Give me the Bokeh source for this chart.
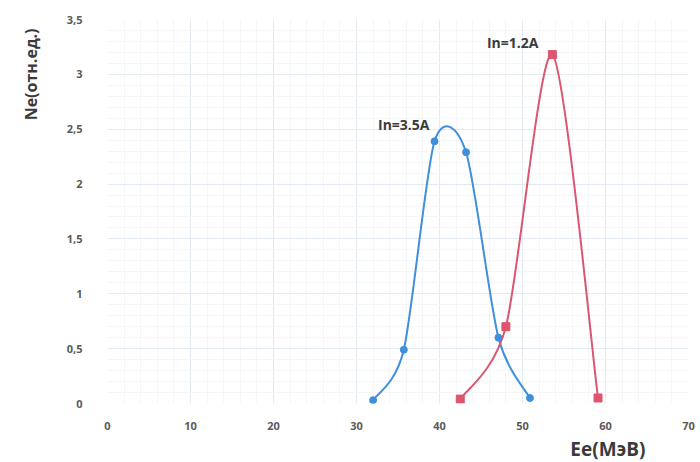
from bokeh.plotting import figure
from bokeh.models import Label, Range1d, FixedTicker, Title
from bokeh.embed import file_html
from bokeh.resources import INLINE

# --- data ---
blue_x = [32.0, 35.7, 39.4, 43.2, 47.1, 50.9]
blue_y = [0.03, 0.49, 2.39, 2.29, 0.60, 0.05]
red_x = [42.5, 48.0, 53.6, 59.1]
red_y = [0.04, 0.70, 3.18, 0.05]
blue_name = "In=3.5A"
red_name = "In=1.2A"
x_ticks = [0, 10, 20, 30, 40, 50, 60, 70]
y_ticks = [0, 0.5, 1, 1.5, 2, 2.5, 3, 3.5]
y_tick_labels = ["0", "0,5", "1", "1,5", "2", "2,5", "3", "3,5"]
x_title = "Ee(МэВ)"
y_title = "Ne(отн.ед.)"


def smooth_segments(xs, ys, k=1 / 7.5):
    # Catmull-Rom style bezier control points (smoothed spreadsheet line)
    n = len(xs)
    seg = dict(x0=[], y0=[], x1=[], y1=[], cx0=[], cy0=[], cx1=[], cy1=[])
    for i in range(n - 1):
        p0 = (xs[max(i - 1, 0)], ys[max(i - 1, 0)])
        p1 = (xs[i], ys[i])
        p2 = (xs[i + 1], ys[i + 1])
        p3 = (xs[min(i + 2, n - 1)], ys[min(i + 2, n - 1)])
        seg["x0"].append(p1[0]); seg["y0"].append(p1[1])
        seg["x1"].append(p2[0]); seg["y1"].append(p2[1])
        seg["cx0"].append(p1[0] + (p2[0] - p0[0]) * k)
        seg["cy0"].append(p1[1] + (p2[1] - p0[1]) * k)
        seg["cx1"].append(p2[0] - (p3[0] - p1[0]) * k)
        seg["cy1"].append(p2[1] - (p3[1] - p1[1]) * k)
    return seg


BLUE = "#3f8fdc"
RED = "#dc5670"
TXT = "#3a3a3a"
TICK = "#5a5a5a"

p = figure(width=696, height=462, output_backend="svg", toolbar_location=None,
           x_range=Range1d(0, 70), y_range=Range1d(0, 3.5),
           min_border_left=107, min_border_right=8, min_border_top=19,
           min_border_bottom=59)
p.outline_line_color = None
p.background_fill_color = "white"
p.border_fill_color = "white"

p.xaxis.ticker = FixedTicker(ticks=x_ticks, minor_ticks=list(range(0, 71, 2)))
p.yaxis.ticker = FixedTicker(ticks=y_ticks, minor_ticks=[v / 10 for v in range(0, 36)])
p.yaxis.major_label_overrides = {t: l for t, l in zip(y_ticks, y_tick_labels)}
for ax in (p.xaxis, p.yaxis):
    ax.axis_line_color = None
    ax.major_tick_line_color = None
    ax.minor_tick_line_color = None
    ax.major_label_text_font = "Open Sans"
    ax.major_label_text_font_style = "bold"
    ax.major_label_text_font_size = "11px"
    ax.major_label_text_color = TICK
p.xaxis.major_label_standoff = 12
p.yaxis.major_label_standoff = 19

p.xgrid.grid_line_color = "#e4eaf1"
p.ygrid.grid_line_color = "#e4eaf1"
p.xgrid.minor_grid_line_color = "#f4f6f9"
p.ygrid.minor_grid_line_color = "#f4f6f9"

bs = smooth_segments(blue_x, blue_y)
p.bezier(source=bs, x0="x0", y0="y0", x1="x1", y1="y1", cx0="cx0", cy0="cy0",
         cx1="cx1", cy1="cy1", line_color=BLUE, line_width=2)
rs = smooth_segments(red_x, red_y)
p.bezier(source=rs, x0="x0", y0="y0", x1="x1", y1="y1", cx0="cx0", cy0="cy0",
         cx1="cx1", cy1="cy1", line_color=RED, line_width=2)

p.scatter(blue_x, blue_y, marker="circle", size=7, fill_color=BLUE, line_color=BLUE)
p.scatter(red_x, red_y, marker="square", size=8, fill_color=RED, line_color=RED)

p.add_layout(Label(x=blue_x[2], y=blue_y[2], x_offset=-5, y_offset=17,
                   text=blue_name, text_align="right", text_baseline="middle",
                   text_font="Open Sans", text_font_style="bold",
                   text_font_size="14px", text_color=TXT))
p.add_layout(Label(x=red_x[2], y=red_y[2], x_offset=-14, y_offset=12,
                   text=red_name, text_align="right", text_baseline="middle",
                   text_font="Open Sans", text_font_style="bold",
                   text_font_size="14px", text_color=TXT))

# axis titles as side titles
p.add_layout(Title(text=x_title, align="right", vertical_align="bottom",
                   text_font="Open Sans", text_font_style="bold",
                   text_font_size="19px", text_color=TXT,
                   offset=43, standoff=2), "below")
p.add_layout(Title(text=y_title, align="right", vertical_align="top",
                   text_font="Open Sans", text_font_style="bold",
                   text_font_size="16px", text_color=TXT,
                   offset=9, standoff=39), "left")

open("out.html", "w").write(file_html(p, INLINE))
